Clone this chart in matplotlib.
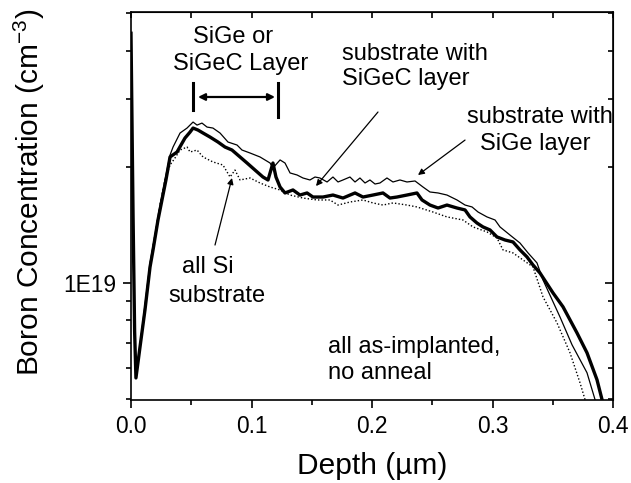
import matplotlib
matplotlib.use('Agg')
import matplotlib.pyplot as plt
import numpy as np
from matplotlib.ticker import LogLocator, NullFormatter, FuncFormatter, MultipleLocator

plt.rcParams['font.family'] = ['Liberation Sans', 'DejaVu Sans']
plt.rcParams['mathtext.fontset'] = 'custom'
plt.rcParams['mathtext.rm'] = 'Liberation Sans'
plt.rcParams['mathtext.default'] = 'regular'

# depth in um, concentration in units of 1E19 cm^-3
sige_depth = [0.0, 0.0017, 0.003, 0.0041, 0.0075, 0.0116, 0.0158, 0.0199, 0.0241, 0.0282,
              0.0324, 0.0349, 0.0407, 0.0465, 0.0515, 0.0548, 0.0589, 0.0631, 0.068, 0.0739,
              0.0805, 0.088, 0.0921, 0.0988, 0.1071, 0.1154, 0.1178, 0.1237, 0.1278, 0.1320,
              0.1378, 0.1427, 0.1485, 0.1527, 0.1568, 0.1627, 0.1676, 0.1718, 0.1759, 0.1817,
              0.1859, 0.1900, 0.1942, 0.1983, 0.2025, 0.2066, 0.2124, 0.2174, 0.2232, 0.2290,
              0.2357, 0.2423, 0.2481, 0.2548, 0.2622, 0.2705, 0.2772, 0.2830, 0.2880, 0.2954,
              0.3021, 0.3062, 0.3145, 0.3228, 0.3295, 0.3369, 0.3419, 0.3560, 0.3660, 0.3784,
              0.3851]
sige_conc = [4.44, 1.5, 0.75, 0.567, 0.691, 0.877, 1.127, 1.331, 1.592, 1.849,
             2.146, 2.251, 2.447, 2.521, 2.613, 2.566, 2.597, 2.536, 2.521, 2.447,
             2.319, 2.278, 2.211, 2.172, 2.121, 2.046, 1.986, 2.084, 2.046, 1.928,
             1.905, 1.871, 1.849, 1.882, 1.871, 1.827, 1.882, 1.827, 1.849, 1.882,
             1.827, 1.871, 1.816, 1.849, 1.805, 1.816, 1.871, 1.827, 1.849, 1.827,
             1.838, 1.773, 1.721, 1.711, 1.690, 1.641, 1.592, 1.574, 1.527, 1.483,
             1.456, 1.397, 1.331, 1.269, 1.196, 1.127, 1.018, 0.816, 0.691, 0.585,
             0.498]

sigec_depth = [0.0, 0.0017, 0.003, 0.0041, 0.0075, 0.0116, 0.0158, 0.0183, 0.0224, 0.0257,
               0.029, 0.0324, 0.0382, 0.0448, 0.049, 0.0515, 0.0556, 0.0598, 0.0656, 0.0722,
               0.078, 0.0838, 0.0905, 0.0963, 0.1029, 0.1095, 0.1137, 0.1178, 0.1203, 0.1237,
               0.1278, 0.1344, 0.1402, 0.1461, 0.1510, 0.1593, 0.1676, 0.1759, 0.1859, 0.1925,
               0.2008, 0.2091, 0.2149, 0.2207, 0.2290, 0.2373, 0.2415, 0.2481, 0.2548, 0.2622,
               0.2705, 0.2772, 0.2813, 0.2871, 0.2921, 0.2979, 0.3037, 0.3104, 0.3170, 0.3228,
               0.3286, 0.3336, 0.3394, 0.3502, 0.3585, 0.3701, 0.3784, 0.3867, 0.3909]
sigec_conc = [4.44, 1.5, 0.75, 0.567, 0.683, 0.851, 1.100, 1.218, 1.456, 1.641,
              1.849, 2.121, 2.185, 2.375, 2.461, 2.521, 2.491, 2.447, 2.389, 2.319,
              2.251, 2.211, 2.121, 2.046, 1.962, 1.882, 1.849, 2.046, 1.882, 1.773,
              1.711, 1.742, 1.690, 1.711, 1.670, 1.670, 1.690, 1.660, 1.711, 1.670,
              1.690, 1.711, 1.660, 1.670, 1.690, 1.711, 1.641, 1.592, 1.564, 1.592,
              1.564, 1.546, 1.483, 1.430, 1.397, 1.372, 1.316, 1.292, 1.277, 1.218,
              1.168, 1.113, 1.061, 0.942, 0.867, 0.742, 0.659, 0.561, 0.498]

si_depth = [0.0, 0.0017, 0.003, 0.0041, 0.0075, 0.0116, 0.0158, 0.0199, 0.0241, 0.0282,
            0.0324, 0.0365, 0.0407, 0.0465, 0.049, 0.0548, 0.0598, 0.068, 0.0763, 0.0822,
            0.0863, 0.0905, 0.0988, 0.1071, 0.1154, 0.1237, 0.1320, 0.1427, 0.1544, 0.1651,
            0.1718, 0.1817, 0.1925, 0.2008, 0.2091, 0.2174, 0.2290, 0.2373, 0.2506, 0.2622,
            0.2755, 0.2838, 0.2954, 0.3037, 0.3087, 0.3170, 0.3253, 0.3336, 0.3419, 0.3535,
            0.3643, 0.3726, 0.3768]
si_conc = [4.44, 1.5, 0.75, 0.578, 0.691, 0.862, 1.113, 1.331, 1.592, 1.849,
           2.022, 2.108, 2.211, 2.251, 2.185, 2.211, 2.121, 2.059, 2.022, 1.882,
           1.962, 1.849, 1.871, 1.816, 1.773, 1.742, 1.690, 1.660, 1.641, 1.641,
           1.592, 1.621, 1.641, 1.612, 1.592, 1.612, 1.592, 1.574, 1.527, 1.483,
           1.456, 1.397, 1.356, 1.308, 1.218, 1.196, 1.147, 1.100, 0.920, 0.788,
           0.659, 0.551, 0.498]

x_ticks = [0.0, 0.1, 0.2, 0.3, 0.4]

fig = plt.figure(figsize=(6.31, 4.83), dpi=100)
ax = fig.add_axes([0.2076, 0.1718, 0.7639, 0.8033])

ax.plot(si_depth, np.array(si_conc) * 1e19, color='black', lw=1.0, ls=(0, (1, 1.5)))
ax.plot(sige_depth, np.array(sige_conc) * 1e19, color='black', lw=0.9)
ax.plot(sigec_depth, np.array(sigec_conc) * 1e19, color='black', lw=2.4)

ax.set_yscale('log')
ax.set_xlim(0.0, 0.4)
ax.set_ylim(4.97e18, 5.04e19)

ax.set_xticks(x_ticks)
ax.xaxis.set_minor_locator(MultipleLocator(0.05))
ax.xaxis.set_major_formatter(FuncFormatter(lambda v, p: '%.1f' % v))
ax.yaxis.set_major_locator(LogLocator(base=10))
ax.yaxis.set_minor_locator(LogLocator(base=10, subs=np.arange(2, 10)))
ax.yaxis.set_major_formatter(FuncFormatter(lambda v, p: '1E%d' % round(np.log10(v))))
ax.yaxis.set_minor_formatter(NullFormatter())

ax.tick_params(which='major', direction='out', length=6, width=1.2, labelsize=16.4, pad=4.5)
ax.tick_params(which='minor', direction='out', length=3.5, width=1.2)
ax.tick_params(top=False, right=False)
for s in ax.spines.values():
    s.set_linewidth(1.2)

# mirrored ticks pointing inward on top and right
secx = ax.secondary_xaxis('top')
secx.set_xticks(x_ticks)
secx.xaxis.set_minor_locator(MultipleLocator(0.05))
secx.xaxis.set_major_formatter(NullFormatter())
secx.tick_params(which='both', direction='in', length=4, width=1.2)
secy = ax.secondary_yaxis('right')
secy.yaxis.set_major_locator(LogLocator(base=10))
secy.yaxis.set_minor_locator(LogLocator(base=10, subs=np.arange(2, 10)))
secy.yaxis.set_major_formatter(NullFormatter())
secy.yaxis.set_minor_formatter(NullFormatter())
secy.tick_params(which='major', direction='in', length=6, width=1.2)
secy.tick_params(which='minor', direction='in', length=3.5, width=1.2)

ax.set_xlabel('Depth (µm)', fontsize=21.5)
ax.xaxis.set_label_coords(0.5, -0.135)
ax.set_ylabel('Boron Concentration (cm$^{-3}$)', fontsize=21.5)
ax.yaxis.set_label_coords(-0.175, 0.535)

tr = ax.transAxes
fs = 17
ax.text(0.2116, 0.920, 'SiGe or', transform=tr, ha='center', va='baseline', fontsize=fs)
ax.text(0.228, 0.8505, 'SiGeC Layer', transform=tr, ha='center', va='baseline', fontsize=fs)
ax.plot([0.1286, 0.1286], [0.817, 0.7474], transform=tr, color='black', lw=2.2)
ax.plot([0.305, 0.305], [0.817, 0.7294], transform=tr, color='black', lw=2.2)
ax.annotate('', xy=(0.2988, 0.781), xytext=(0.139, 0.781), xycoords=tr, textcoords=tr,
            arrowprops=dict(arrowstyle='<|-|>', color='black', lw=1.6, mutation_scale=10,
                            shrinkA=0, shrinkB=0))

ax.text(0.4378, 0.876, 'substrate with', transform=tr, ha='left', va='baseline', fontsize=fs)
ax.text(0.4378, 0.812, 'SiGeC layer', transform=tr, ha='left', va='baseline', fontsize=fs)
ax.text(0.697, 0.714, 'substrate with', transform=tr, ha='left', va='baseline', fontsize=fs)
ax.text(0.724, 0.644, 'SiGe layer', transform=tr, ha='left', va='baseline', fontsize=fs)
ax.text(0.1058, 0.327, 'all Si', transform=tr, ha='left', va='baseline', fontsize=fs)
ax.text(0.0768, 0.2526, 'substrate', transform=tr, ha='left', va='baseline', fontsize=fs)
ax.text(0.4087, 0.121, 'all as-implanted,', transform=tr, ha='left', va='baseline', fontsize=fs)
ax.text(0.4087, 0.054, 'no anneal', transform=tr, ha='left', va='baseline', fontsize=fs)

arrow = dict(arrowstyle='-|>', color='black', lw=0.9, mutation_scale=9, shrinkA=0, shrinkB=0)
ax.annotate('', xy=(0.3838, 0.5515), xytext=(0.5124, 0.7423), xycoords=tr, textcoords=tr, arrowprops=arrow)
ax.annotate('', xy=(0.5954, 0.5799), xytext=(0.693, 0.670), xycoords=tr, textcoords=tr, arrowprops=arrow)
ax.annotate('', xy=(0.2095, 0.5722), xytext=(0.1743, 0.3995), xycoords=tr, textcoords=tr, arrowprops=arrow)

fig.savefig('out.png', dpi=100)
